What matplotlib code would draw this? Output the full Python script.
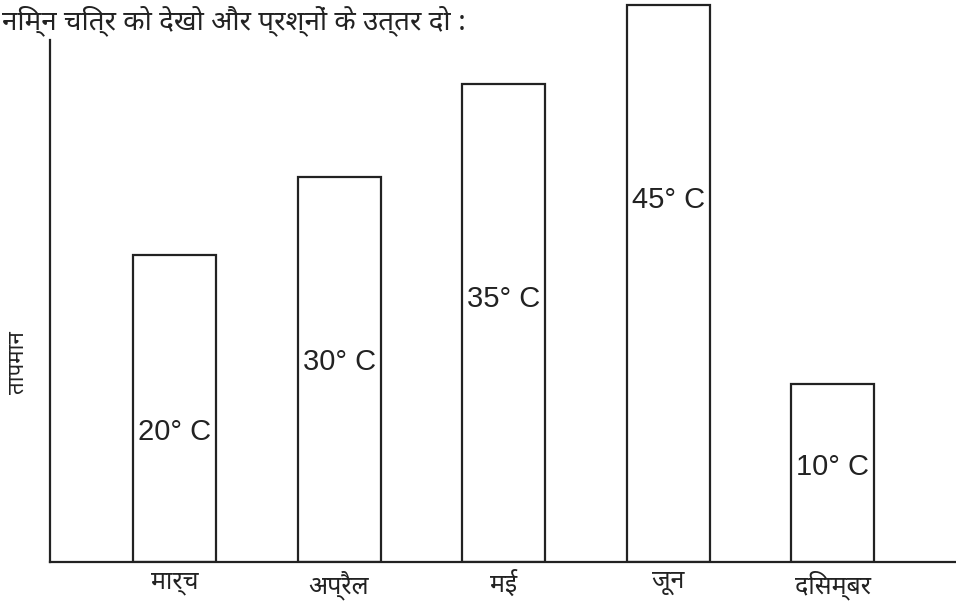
import matplotlib
matplotlib.use('Agg')
import matplotlib.pyplot as plt

# ── 데이터 ──
months = ['मार्च', 'अप्रैल', 'मई', 'जून', 'दिसम्बर']
temps = [20, 30, 35, 45, 10]                 # 막대 안 라벨 (°C)
bar_heights = [307, 385, 478, 557, 178]      # 그림에서 읽은 막대 높이 (임의 단위)
label_y = [130, 200, 263, 362, 95]           # 라벨 세로 위치 (같은 단위)

HINDI = ['Noto Sans Devanagari', 'DejaVu Sans']
LATIN = ['Liberation Sans', 'DejaVu Sans']
INK = '#222222'

fig = plt.figure(figsize=(9.56, 6.03), dpi=100)
ax = fig.add_axes([50 / 956, 41 / 603, 906 / 956, 562 / 603])

x = list(range(len(months)))
ax.bar(x, bar_heights, width=0.504, facecolor='white',
       edgecolor=INK, linewidth=1.6, zorder=2)

for xi, t, ly in zip(x, temps, label_y):
    ax.text(xi - 0.252 + 0.03, ly, f'{t}° C', ha='left', va='center',
            fontsize=21, family=LATIN, color=INK, zorder=3)

ax.set_xlim(-0.756, 4.748)
ax.set_ylim(0, 562)

for s in ['top', 'right']:
    ax.spines[s].set_visible(False)
ax.spines['left'].set_bounds(0, 522)
for s in ['left', 'bottom']:
    ax.spines[s].set_linewidth(1.6)
    ax.spines[s].set_color(INK)

ax.set_yticks([])
ax.set_xticks(x)
ax.set_xticklabels(months, family=HINDI, fontsize=18, color=INK)
ax.tick_params(axis='x', length=0, pad=6)

fig.text(18 / 956, 1 - 363 / 603, 'तापमान', rotation=90, ha='center', va='center',
         family=HINDI, fontsize=16, color=INK)
fig.text(2 / 956, 1 - 21 / 603, 'निम्न चित्र को देखो और प्रश्नों के उत्तर दो :',
         ha='left', va='center', family=HINDI, fontsize=20, color=INK)

fig.savefig('out.png', dpi=100)
